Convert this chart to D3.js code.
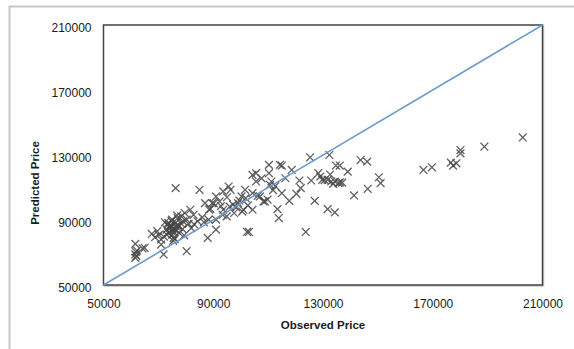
<!DOCTYPE html>
<html>
<head>
<meta charset="utf-8">
<script src="https://cdn.jsdelivr.net/npm/d3@7"></script>
<style>
  body { margin: 0; background: #fff; }
  svg { display: block; }
  text { font-family: "Liberation Sans", Arial, sans-serif; fill: #1a1a1a; }
</style>
</head>
<body>
<svg id="chart" width="574" height="349"></svg>
<script>
// axis ticks
var xTicks = [50000, 90000, 130000, 170000, 210000]
var yTicks = [50000, 90000, 130000, 170000, 210000]

// observed vs predicted prices
var observed = [
  202800, 188800, 180100, 180100, 178600, 177400, 176600, 169700, 166600,
  150350, 151000, 146300, 141300, 143700, 146100, 139000, 134700, 136100,
  132300, 125300, 128300, 129000, 125700, 129700, 131700, 133000, 134300,
  135700, 133700, 137000, 127000, 131700, 134300, 123700, 121400, 121900,
  120300, 117700, 115000, 116300, 115000, 114300, 110300, 110300, 111200,
  110700, 113400, 113900, 105600, 104300, 105600, 103000, 102300, 108300,
  107000, 104300, 101600, 100300, 99000, 101000, 104300, 97600, 95600,
  96300, 93600, 91000, 92300, 89600, 87000, 85000, 88300, 91000, 91000,
  88000, 93600, 94900, 76300, 80300, 71900, 71000, 71000, 65000, 61600,
  61600, 61600, 67600, 69600, 73000, 73600, 75000, 73600, 75000, 76300,
  77600, 75600, 78300, 79600, 81600, 79000, 80300, 77000, 74300, 73000,
  75000, 76300, 84300, 86000, 88500, 90200, 92800, 95000, 97200, 99500,
  101800, 106200, 108800, 111800, 112600, 107600, 98400, 96000, 93400,
  89000, 86600, 83000, 82000, 78800, 76800, 74600, 72400, 74800, 76000,
  77400, 79400, 81000, 82800, 75400, 74000, 72000, 70200, 62200, 64200,
  68800, 100600, 102600, 109800, 118600, 130600, 132600, 136200,
  74200, 75800, 77200, 73400, 76600, 78200, 61800, 62000, 74800, 75600
]
var predicted = [
  140800, 135100, 133060, 131000, 124900, 123500, 125300, 122450, 120800,
  116300, 112700, 109200, 105100, 126900, 125900, 119800, 123500, 123500,
  130000, 128600, 118800, 116700, 114300, 114700, 114700, 113700, 113700,
  112700, 112200, 113000, 101800, 96700, 94700, 82650, 114300, 109600,
  106100, 101800, 106500, 115700, 123500, 123900, 123900, 118800, 113700,
  111600, 96700, 91200, 118800, 117800, 113700, 82650, 82650, 101400,
  104500, 106500, 108600, 104500, 100400, 96300, 96300, 94300, 110600,
  108600, 107600, 104500, 101400, 100400, 100400, 108600, 90200, 90200,
  84100, 79000, 96300, 92200, 109600, 70800, 68800, 74900, 78000, 72900,
  75300, 68800, 66700, 81400, 83100, 84100, 88200, 90200, 82000, 84100,
  86100, 82000, 79000, 92200, 94300, 96300, 89200, 90200, 91200, 85100,
  81000, 81000, 88200, 89200, 91600, 96400, 100200, 98600, 104000, 99400,
  102000, 103400, 104800, 101400, 108400, 110800, 115600, 97800, 98200,
  93200, 96800, 88600, 87400, 85000, 84400, 92800, 86600, 88600, 83200,
  78200, 85800, 80600, 87600, 93200, 77200, 86200, 79800, 80800, 71200,
  72600, 79400, 95200, 99000, 102600, 120800, 114600, 118000, 113200,
  85600, 84200, 86800, 87000, 83600, 88000, 70400, 67800, 89400, 82800
]

var svg = d3.select("#chart")
var plotLeft = 103.5, plotRight = 542.5, plotTop = 25, plotBottom = 285

// outer frame, only the top and left edges show
svg.append("path")
  .attr("d", "M9.5,349 L9.5,6.5 L574,6.5")
  .attr("fill", "none")
  .attr("stroke", "#c6c6c6")
  .attr("stroke-width", 2)

var x = d3.scaleLinear().domain([50000, 210000]).range([plotLeft, plotRight])
var y = d3.scaleLinear().domain([50000, 210000]).range([plotBottom, plotTop])

// plot area box with a faint shadow
svg.append("rect")
  .attr("x", plotLeft + 1).attr("y", plotTop + 1)
  .attr("width", plotRight - plotLeft).attr("height", plotBottom - plotTop)
  .attr("fill", "none").attr("stroke", "#c8c8c8").attr("stroke-width", 1.5)
svg.append("rect")
  .attr("x", plotLeft).attr("y", plotTop)
  .attr("width", plotRight - plotLeft).attr("height", plotBottom - plotTop)
  .attr("fill", "#fff").attr("stroke", "#444").attr("stroke-width", 1.5)

// tick labels via d3 axes, with no lines drawn
var xAxis = svg.append("g")
  .attr("transform", "translate(0," + plotBottom + ")")
  .call(d3.axisBottom(x).tickValues(xTicks).tickSize(0).tickPadding(14).tickFormat(d3.format("d")))
var yAxis = svg.append("g")
  .attr("transform", "translate(" + plotLeft + ",0)")
  .call(d3.axisLeft(y).tickValues(yTicks).tickSize(0).tickPadding(12).tickFormat(d3.format("d")))
svg.selectAll(".domain").remove()
svg.selectAll(".tick text")
  .attr("font-family", "Liberation Sans, Arial, sans-serif")
  .attr("font-size", 12)
  .attr("fill", "#1a1a1a")
yAxis.selectAll(".tick text").attr("dy", "0.5em")

// scatter markers, drawn as x shapes
var s = 3.9
svg.append("g")
  .selectAll("path")
  .data(d3.zip(observed, predicted))
  .enter()
  .append("path")
  .attr("d", function(d) {
    var px = x(d[0]), py = y(d[1])
    return "M" + (px - s) + "," + (py - s) + "L" + (px + s) + "," + (py + s) +
           "M" + (px - s) + "," + (py + s) + "L" + (px + s) + "," + (py - s)
  })
  .attr("stroke", "#454545")
  .attr("stroke-width", 1.3)
  .attr("stroke-opacity", 0.85)
  .attr("fill", "none")

// 1:1 reference line
svg.append("line")
  .attr("x1", x(50000)).attr("y1", y(50000))
  .attr("x2", x(210000)).attr("y2", y(210000))
  .attr("stroke", "#6a9bd1")
  .attr("stroke-width", 1.6)

// axis titles
svg.append("text")
  .attr("x", 323).attr("y", 329)
  .attr("text-anchor", "middle")
  .attr("font-size", 11.5)
  .attr("font-weight", "bold")
  .text("Observed Price")
svg.append("text")
  .attr("transform", "translate(39,183) rotate(-90)")
  .attr("text-anchor", "middle")
  .attr("font-size", 11.5)
  .attr("font-weight", "bold")
  .text("Predicted Price")
</script>
</body>
</html>
